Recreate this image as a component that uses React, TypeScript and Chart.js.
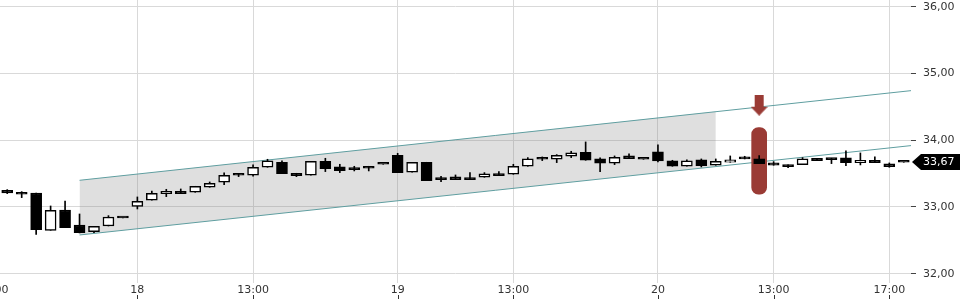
import React, { useEffect, useRef } from 'react';
import { Chart, registerables } from 'chart.js';

Chart.register(...registerables);

// 30-minute candles: 17th 13:30 … 20th 17:30
const opens = [
  33.25, 33.21, 33.21, 32.65, 32.955, 32.73, 32.63, 32.715, 32.835,
  33.01, 33.10, 33.20, 33.235, 33.22, 33.295, 33.37, 33.475, 33.475, 33.595,
  33.67, 33.505, 33.475, 33.685, 33.60, 33.585, 33.58, 33.64,
  33.775, 33.52, 33.67, 33.435, 33.45, 33.435, 33.445, 33.495, 33.49, 33.61,
  33.715, 33.715, 33.76, 33.82, 33.72, 33.655, 33.765, 33.715,
  33.825, 33.69, 33.61, 33.705, 33.625, 33.67, 33.72, 33.72, 33.66, 33.63,
  33.635, 33.73, 33.73, 33.735, 33.665, 33.70, 33.645, 33.67,
];
const highs = [
  33.26, 33.23, 33.21, 33.015, 33.09, 32.895, 32.71, 32.87, 32.835,
  33.15, 33.24, 33.265, 33.27, 33.31, 33.375, 33.51, 33.495, 33.63, 33.715,
  33.69, 33.505, 33.685, 33.73, 33.64, 33.61, 33.61, 33.64,
  33.805, 33.67, 33.67, 33.46, 33.48, 33.515, 33.515, 33.53, 33.64, 33.74,
  33.75, 33.785, 33.835, 33.975, 33.735, 33.765, 33.795, 33.715,
  33.93, 33.70, 33.705, 33.72, 33.72, 33.765, 33.76, 33.77, 33.68, 33.63,
  33.74, 33.73, 33.73, 33.84, 33.81, 33.75, 33.66, 33.67,
];
const lows = [
  33.20, 33.14, 32.59, 32.65, 32.69, 32.61, 32.615, 32.715, 32.835,
  32.97, 33.10, 33.155, 33.20, 33.22, 33.295, 33.335, 33.455, 33.46, 33.595,
  33.50, 33.455, 33.475, 33.53, 33.515, 33.54, 33.54, 33.64,
  33.515, 33.52, 33.395, 33.38, 33.41, 33.41, 33.445, 33.47, 33.49, 33.61,
  33.695, 33.665, 33.74, 33.70, 33.53, 33.635, 33.725, 33.715,
  33.675, 33.61, 33.61, 33.60, 33.625, 33.67, 33.72, 33.65, 33.625, 33.59,
  33.635, 33.695, 33.65, 33.62, 33.63, 33.665, 33.595, 33.67,
];
const closes = [
  33.21, 33.19, 32.66, 32.95, 32.69, 32.615, 32.71, 32.85, 32.835,
  33.085, 33.205, 33.235, 33.20, 33.31, 33.355, 33.475, 33.475, 33.595, 33.69,
  33.50, 33.47, 33.685, 33.575, 33.545, 33.56, 33.58, 33.64,
  33.515, 33.67, 33.395, 33.41, 33.41, 33.41, 33.495, 33.47, 33.61, 33.72,
  33.715, 33.775, 33.81, 33.70, 33.655, 33.745, 33.725, 33.715,
  33.69, 33.61, 33.69, 33.62, 33.685, 33.705, 33.72, 33.65, 33.625, 33.605,
  33.72, 33.695, 33.71, 33.665, 33.70, 33.665, 33.605, 33.67,
];

const xTickIndex = [-1, 9, 17, 27, 35, 45, 53, 61];
const xTickLabels = ['13:00', '18', '13:00', '19', '13:00', '20', '13:00', '17:00'];
const yTicks = [32, 33, 34, 35, 36];

const channelX = [5, 62.5];
const channelUpper = [33.40, 34.744];
const channelLower = [32.58, 33.92];
const shadeX = [5, 49];
const shadeUpper = [33.40, 34.43];
const shadeLower = [32.58, 33.605];

const markerIndex = 52;
const markerRange = [33.19, 34.19];
const markerArrowValue = 34.525;

const GRID = '#d9d9d9';
const TEAL = '#5f9ea0';
const MARKER = '#9a3b35';
const FONT = '"DejaVu Sans", Verdana, sans-serif';

const fmt = (v: number) => v.toFixed(2).replace('.', ',');

export default function App() {
  const ref = useRef<HTMLCanvasElement>(null);

  useEffect(() => {
    const canvas = ref.current!;
    const up = closes.map((c, i) => c > opens[i]);

    const icon = document.createElement('canvas');
    icon.width = 17;
    icon.height = 21;
    const ic = icon.getContext('2d')!;
    ic.fillStyle = MARKER;
    ic.fillRect(4, 0, 9, 12);
    ic.beginPath();
    ic.moveTo(0, 12);
    ic.lineTo(17, 12);
    ic.lineTo(8.5, 21);
    ic.closePath();
    ic.fill();

    const overlay = {
      id: 'overlay',
      afterDraw(chart: any) {
        const { ctx, chartArea, scales } = chart;
        const x = scales.x;
        const y = scales.y;
        ctx.save();
        ctx.font = `11px ${FONT}`;
        ctx.fillStyle = '#333';
        ctx.textAlign = 'center';
        ctx.textBaseline = 'alphabetic';
        xTickIndex.forEach((v, i) => {
          const px = x.getPixelForValue(v);
          ctx.fillText(xTickLabels[i], px, 293);
          ctx.fillRect(Math.round(px), 295, 1, 4);
        });
        // last price tag
        const last = closes[closes.length - 1];
        const py = Math.round(y.getPixelForValue(last));
        const r = chartArea.right;
        ctx.fillStyle = '#000';
        ctx.beginPath();
        ctx.moveTo(r + 1, py);
        ctx.lineTo(r + 10, py - 8);
        ctx.lineTo(960, py - 8);
        ctx.lineTo(960, py + 8);
        ctx.lineTo(r + 10, py + 8);
        ctx.closePath();
        ctx.fill();
        ctx.fillStyle = '#fff';
        ctx.textAlign = 'left';
        ctx.textBaseline = 'middle';
        ctx.fillText(fmt(last), r + 12, py + 0.5);
        ctx.restore();
      },
    };

    const chart = new Chart(canvas, {
      type: 'bar',
      data: {
        datasets: [
          {
            type: 'bar',
            data: opens.map((o, i) => ({ x: i, y: [o, closes[i]] })),
            backgroundColor: up.map((u) => (u ? '#ffffff' : '#000000')),
            borderColor: '#000',
            borderWidth: 1.5,
            borderSkipped: false,
            barThickness: 11,
            minBarLength: 2,
            grouped: false,
            order: 0,
          } as any,
          {
            type: 'bar',
            data: lows.map((l, i) => ({ x: i, y: [l, highs[i]] })),
            backgroundColor: '#000',
            borderWidth: 0,
            barThickness: 1,
            grouped: false,
            order: 1,
          } as any,
          {
            type: 'line',
            data: [{ x: markerIndex, y: markerArrowValue }],
            showLine: false,
            pointStyle: icon,
            pointRadius: 5,
            pointBorderWidth: 0,
            order: 2,
          } as any,
          {
            type: 'bar',
            data: [{ x: markerIndex, y: markerRange }],
            backgroundColor: MARKER,
            borderWidth: 0,
            borderSkipped: false,
            borderRadius: 7,
            barThickness: 15,
            grouped: false,
            order: 3,
          } as any,
          {
            type: 'line',
            data: channelX.map((v, i) => ({ x: v, y: channelUpper[i] })),
            borderColor: TEAL,
            borderWidth: 1,
            pointRadius: 0,
            fill: false,
            order: 4,
          } as any,
          {
            type: 'line',
            data: channelX.map((v, i) => ({ x: v, y: channelLower[i] })),
            borderColor: TEAL,
            borderWidth: 1,
            pointRadius: 0,
            fill: false,
            order: 4,
          } as any,
          {
            type: 'line',
            data: shadeX.map((v, i) => ({ x: v, y: shadeUpper[i] })),
            borderWidth: 0,
            borderColor: 'rgba(0,0,0,0)',
            pointRadius: 0,
            fill: '+1',
            backgroundColor: 'rgba(128,128,128,0.25)',
            order: 5,
          } as any,
          {
            type: 'line',
            data: shadeX.map((v, i) => ({ x: v, y: shadeLower[i] })),
            borderWidth: 0,
            borderColor: 'rgba(0,0,0,0)',
            pointRadius: 0,
            fill: false,
            order: 5,
          } as any,
        ],
      },
      options: {
        responsive: false,
        animation: false,
        events: [],
        layout: { padding: 0, autoPadding: false },
        plugins: { legend: { display: false }, tooltip: { enabled: false } },
        scales: {
          x: {
            type: 'linear',
            min: -0.5,
            max: 62.5,
            offset: false,
            afterBuildTicks: (s: any) => {
              s.ticks = xTickIndex.map((v) => ({ value: v }));
            },
            afterFit: (s: any) => {
              s.height = 17;
              s.paddingLeft = 0;
              s.paddingRight = 0;
            },
            ticks: { display: false },
            grid: { color: GRID, drawTicks: false, offset: false },
            border: { display: false },
          },
          y: {
            position: 'right',
            min: 31.86,
            max: 36.103,
            afterBuildTicks: (s: any) => {
              s.ticks = yTicks.map((v) => ({ value: v }));
            },
            afterFit: (s: any) => {
              s.width = 49;
              s.paddingTop = 0;
              s.paddingBottom = 0;
            },
            ticks: {
              padding: 7,
              color: '#333',
              font: { family: FONT, size: 11 },
              callback: (v: any) => fmt(Number(v)),
            },
            grid: { color: GRID, tickColor: '#444', tickLength: 5 },
            border: { display: false },
          },
        },
      } as any,
      plugins: [overlay],
    });
    return () => chart.destroy();
  }, []);

  return (
    <div style={{ position: 'absolute', left: 0, top: 0, width: 960, height: 300 }}>
      <canvas ref={ref} width={960} height={300} style={{ display: 'block' }} />
    </div>
  );
}
